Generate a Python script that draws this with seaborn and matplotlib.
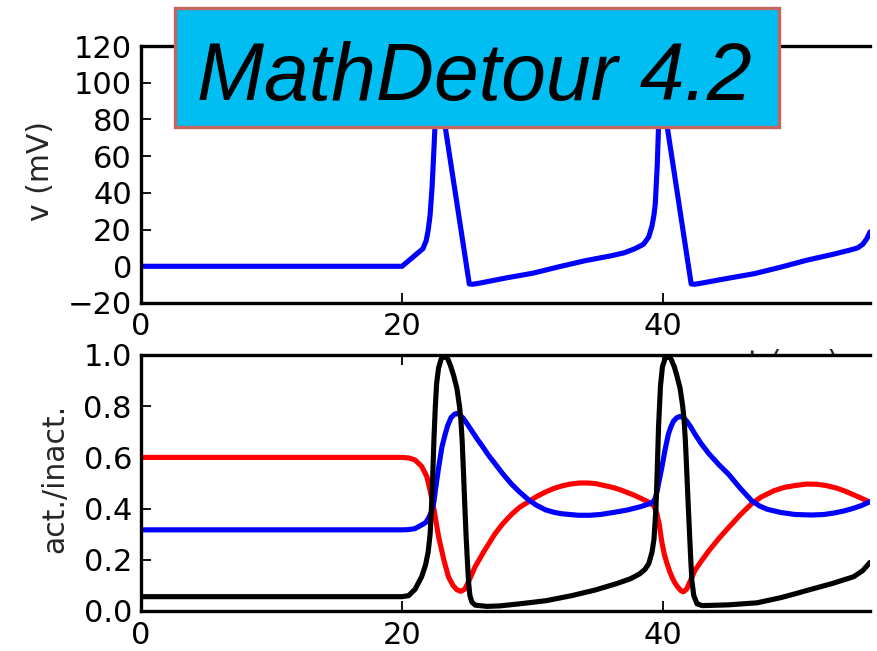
import numpy as np
import pandas as pd
import matplotlib
matplotlib.use("Agg")
import matplotlib.pyplot as plt
from matplotlib.patches import Rectangle
import seaborn as sns

# ---------------- data ----------------
t_v = [0, 20, 21.6, 21.85, 22.0, 22.15, 22.3, 22.45, 22.7, 25.15, 25.4, 26.0, 28.0, 30.0,
       32.0, 34.0, 36.0, 37.0, 37.85, 38.5, 38.9, 39.15, 39.3, 39.4, 39.55, 39.65, 39.8,
       42.15, 42.4, 43.0, 45.0, 47.0, 49.0, 51.0, 53.0, 54.3, 54.9, 55.3, 55.6, 55.85]
v_mV = [0, 0, 9.6, 14.0, 19.6, 28.0, 43.0, 65.0, 104, -9.6, -9.8, -9.1, -6.3, -3.8,
        -0.3, 3.0, 5.7, 7.3, 9.6, 12.0, 16.0, 22.0, 28.0, 34.0, 55.0, 76.0, 100,
        -9.6, -9.8, -9.1, -6.5, -4.0, -0.5, 3.3, 6.5, 8.8, 10.0, 12.0, 15.0, 18.7]

t_m = [0, 20, 20.5, 21.0, 21.5, 21.8, 22.0, 22.15, 22.25, 22.35, 22.45, 22.55, 22.65,
       22.8, 23.0, 23.25, 23.5, 23.7, 23.95, 24.2, 24.4, 24.5, 24.6, 24.7, 24.8, 24.9,
       25.0, 25.1, 25.2, 25.35, 25.6, 26.5, 27.5, 29.0, 31.0, 33.0, 34.8, 36.5, 37.5,
       38.2, 38.6, 38.9, 39.15, 39.3, 39.45, 39.55, 39.65, 39.8, 39.95, 40.15, 40.35,
       40.6, 40.85, 41.05, 41.3, 41.5, 41.6, 41.7, 41.8, 41.9, 42.0, 42.1, 42.2, 42.35,
       42.6, 43.0, 45.0, 47.2, 49.0, 50.1, 51.0, 53.0, 54.6, 55.3, 55.85]
m_act = [0.056, 0.056, 0.06, 0.085, 0.134, 0.18, 0.23, 0.30, 0.40, 0.53, 0.68, 0.80, 0.89,
         0.95, 0.985, 0.995, 0.985, 0.96, 0.92, 0.87, 0.80, 0.75, 0.67, 0.55, 0.42, 0.30,
         0.20, 0.11, 0.06, 0.035, 0.023, 0.018, 0.02, 0.028, 0.04, 0.06, 0.082, 0.108, 0.126,
         0.145, 0.162, 0.185, 0.23, 0.28, 0.40, 0.55, 0.72, 0.88, 0.955, 0.985, 0.995,
         0.985, 0.955, 0.92, 0.87, 0.80, 0.75, 0.67, 0.56, 0.44, 0.33, 0.22, 0.12, 0.06,
         0.028, 0.021, 0.024, 0.032, 0.052, 0.067, 0.08, 0.108, 0.134, 0.158, 0.19]

t_h = [0, 20, 20.5, 21.0, 21.5, 21.9, 22.15, 22.4, 22.8, 23.2, 23.55, 23.9, 24.2, 24.5,
       24.8, 25.1, 25.6, 26.3, 27.1, 27.7, 28.4, 29.0, 29.7, 30.3, 31.0, 31.6, 32.2,
       32.9, 33.6, 34.2, 34.8, 35.5, 36.2, 36.8, 37.3, 37.8, 38.3, 38.9, 39.3, 39.5,
       39.7, 39.9, 40.1, 40.3, 40.5, 40.7, 40.9, 41.1, 41.35, 41.55, 41.8, 42.1, 42.45,
       43.0, 43.5, 44.3, 45.0, 45.9, 46.8, 47.5, 48.5, 49.3, 50.1, 51.0, 51.8, 52.5,
       53.3, 54.0, 55.0, 55.85]
h_inact = [0.6, 0.6, 0.598, 0.59, 0.565, 0.525, 0.47, 0.41, 0.29, 0.2, 0.134, 0.1, 0.083,
           0.077, 0.085, 0.115, 0.173, 0.235, 0.30, 0.34, 0.378, 0.405, 0.427, 0.447, 0.465,
           0.478, 0.488, 0.496, 0.5, 0.5, 0.498, 0.49, 0.482, 0.472, 0.462, 0.452, 0.44,
           0.425, 0.41, 0.385, 0.34, 0.27, 0.22, 0.185, 0.155, 0.13, 0.11, 0.095, 0.08,
           0.075, 0.085, 0.12, 0.16, 0.2, 0.235, 0.285, 0.325, 0.375, 0.42, 0.445, 0.47,
           0.483, 0.49, 0.496, 0.495, 0.49, 0.48, 0.467, 0.445, 0.425]

t_n = [0, 20, 20.5, 21.0, 21.5, 21.8, 22.0, 22.15, 22.3, 22.45, 22.55, 22.8, 23.05, 23.3,
       23.5, 23.75, 24.0, 24.2, 24.45, 24.7, 25.0, 25.3, 25.7, 26.2, 26.6, 27.1, 27.7,
       28.4, 29.0, 29.7, 30.3, 31.0, 31.6, 32.2, 33.5, 34.4, 35.2, 36.2, 37.3, 38.3,
       38.9, 39.2, 39.4, 39.55, 39.7, 39.9, 40.15, 40.4, 40.6, 40.8, 41.05, 41.3, 41.55,
       41.8, 42.1, 42.45, 42.9, 43.5, 44.3, 45.0, 45.9, 46.8, 47.4, 48.0, 49.0, 50.1,
       51.4, 52.3, 53.0, 53.8, 54.5, 55.2, 55.85]
n_act = [0.317, 0.317, 0.318, 0.322, 0.336, 0.345, 0.36, 0.375, 0.395, 0.43, 0.47, 0.56,
         0.64, 0.69, 0.725, 0.755, 0.768, 0.772, 0.765, 0.752, 0.73, 0.707, 0.676, 0.64,
         0.61, 0.577, 0.537, 0.495, 0.465, 0.434, 0.413, 0.395, 0.386, 0.38, 0.374, 0.374,
         0.377, 0.385, 0.395, 0.408, 0.418, 0.425, 0.44, 0.47, 0.51, 0.56, 0.63, 0.69, 0.72,
         0.742, 0.755, 0.76, 0.755, 0.742, 0.72, 0.69, 0.655, 0.615, 0.57, 0.535, 0.48,
         0.43, 0.41, 0.397, 0.385, 0.377, 0.375, 0.377, 0.382, 0.39, 0.40, 0.412, 0.427]

x_ticks = [0, 20, 40]
v_ticks = [-20, 0, 20, 40, 60, 80, 100, 120]
g_ticks = [0.0, 0.2, 0.4, 0.6, 0.8, 1.0]
title_text = "MathDetour 4.2"
v_label = "v (mV)"
g_label = "act./inact."
t_label = "t (ms)"

# ---------------- style ----------------
sns.set_theme(style="ticks")
plt.rcParams["font.family"] = ["DejaVu Sans"]
plt.rcParams["axes.linewidth"] = 2.4
plt.rcParams["axes.edgecolor"] = "black"

W, H = 877, 651
fig = plt.figure(figsize=(W / 100, H / 100), dpi=100)
fig.patch.set_facecolor("white")


def px_rect(left, top, right, bottom):
    return [left / W, (H - bottom) / H, (right - left) / W, (bottom - top) / H]


ax1 = fig.add_axes(px_rect(141, 46, 870, 303))
ax2 = fig.add_axes(px_rect(141, 355, 870, 611))

lw = 3.7
sns.lineplot(x=t_v, y=v_mV, ax=ax1, color="#0000ff", linewidth=lw, legend=False)
sns.lineplot(x=t_h, y=h_inact, ax=ax2, color="#ff0000", linewidth=lw, legend=False)
sns.lineplot(x=t_n, y=n_act, ax=ax2, color="#0000ff", linewidth=lw, legend=False)
sns.lineplot(x=t_m, y=m_act, ax=ax2, color="#000000", linewidth=lw, legend=False)
for ax in (ax1, ax2):
    for ln in ax.get_lines():
        ln.set_solid_joinstyle("round")
        ln.set_solid_capstyle("round")

xmax = 55.85
ax1.set_xlim(0, xmax)
ax1.set_ylim(-20, 120)
ax1.set_xticks(x_ticks)
ax1.set_yticks(v_ticks)
ax1.set_yticklabels(["\u2212" + str(abs(v)) if v < 0 else str(v) for v in v_ticks])

ax2.set_xlim(0, xmax)
ax2.set_ylim(0, 1)
ax2.set_xticks(x_ticks)
ax2.set_yticks(g_ticks)
ax2.set_yticklabels([f"{g:.1f}" for g in g_ticks])

for ax, xpad in ((ax1, 6.5), (ax2, 7.3)):
    ax.spines["right"].set_visible(False)
    ax.tick_params(axis="both", direction="in", length=7.5, width=1.3,
                   top=True, right=False, labelsize=22, colors="black")
    ax.tick_params(axis="x", pad=xpad)
    ax.tick_params(axis="y", pad=6.5)
    ax.set_xlabel("")
    ax.set_facecolor("white")

ax1.set_ylabel(v_label, fontsize=21.5)
ax1.yaxis.set_label_coords(-0.118, 0.514)
ax2.set_ylabel(g_label, fontsize=21.5)
ax2.yaxis.set_label_coords(-0.099, 0.52)

# x label of the top panel, almost fully hidden behind the lower panel
ax1.text(793 / W, (H - 372) / H, t_label, transform=fig.transFigure,
         ha="center", va="baseline", fontsize=22, clip_on=False)

# title box
box = Rectangle((175 / W, (H - 127) / H), (779 - 175) / W, (127 - 8) / H,
                transform=fig.transFigure, facecolor="#00bef2",
                edgecolor="#c8645e", linewidth=2.4, zorder=10)
fig.add_artist(box)
fig.text(474 / W, (H - 100) / H, title_text, ha="center", va="baseline",
         fontsize=58, style="italic", family=["Liberation Sans", "DejaVu Sans"],
         color="black", zorder=11)

fig.savefig("out.png", dpi=100, facecolor="white")
